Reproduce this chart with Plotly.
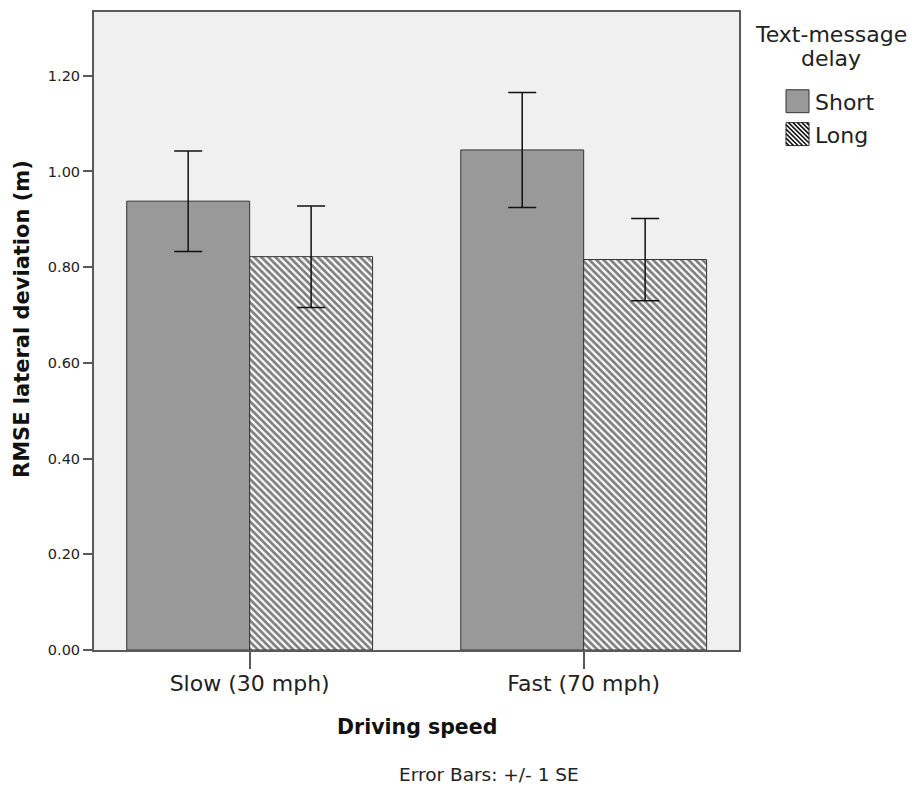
import plotly.graph_objects as go

# ---- data ----
categories = ["Slow (30 mph)", "Fast (70 mph)"]
series_names = ["Short", "Long"]
short_mean = [0.938, 1.045]
short_se = [0.105, 0.120]
long_mean = [0.822, 0.816]
long_se = [0.106, 0.086]
y_tickvals = [0.0, 0.2, 0.4, 0.6, 0.8, 1.0, 1.2]
y_ticktext = ["0.00", "0.20", "0.40", "0.60", "0.80", "1.00", "1.20"]

# ---- layout geometry (pixels) ----
W, H = 912, 789
PL, PR, PT, PB = 94, 739, 10, 650  # plot area edges


def px(x):
    return (x - PL) / (PR - PL)


def py(y):
    return (PB - y) / (PB - PT)


FONT = "DejaVu Sans"
AXIS_COL = "#5a5a5a"

fig = go.Figure()
fig.add_trace(go.Bar(
    name=series_names[0], x=categories, y=short_mean,
    marker=dict(color="#999999", line=dict(color="#333333", width=1)),
    error_y=dict(type="data", array=short_se, visible=True,
                 color="#111111", thickness=1.5, width=14),
    showlegend=False,
))
fig.add_trace(go.Bar(
    name=series_names[1], x=categories, y=long_mean,
    marker=dict(color="white", line=dict(color="#333333", width=1),
                pattern=dict(shape="\\", size=5, solidity=0.55,
                             fgcolor="#000000", bgcolor="white")),
    error_y=dict(type="data", array=long_se, visible=True,
                 color="#111111", thickness=1.5, width=14),
    showlegend=False,
))

# ---- custom legend (swatches) ----
shapes = []
S = 23
sx0, sy_short, sy_long = 786, 88, 121
shapes.append(dict(type="rect", xref="paper", yref="paper",
                   x0=px(sx0), x1=px(sx0 + S), y0=py(sy_short + S), y1=py(sy_short),
                   fillcolor="#999999", line=dict(color="#333333", width=1)))
shapes.append(dict(type="rect", xref="paper", yref="paper",
                   x0=px(sx0), x1=px(sx0 + S), y0=py(sy_long + S), y1=py(sy_long),
                   fillcolor="white", line=dict(color="#333333", width=1)))
path = ""
c = -S + 3
while c < S:
    xa = max(0, c)
    xb = min(S, S + c)
    if xb > xa:
        ya, yb = xa - c, xb - c
        path += "M{:.5f},{:.5f} L{:.5f},{:.5f} ".format(
            px(sx0 + xa), py(sy_long + ya), px(sx0 + xb), py(sy_long + yb))
    c += 4.5
shapes.append(dict(type="path", xref="paper", yref="paper", path=path,
                   line=dict(color="#111111", width=1.5)))

annotations = [
    dict(text="Short", x=px(813), y=py(101), xref="paper", yref="paper",
         xanchor="left", yanchor="middle", showarrow=False,
         font=dict(family=FONT, size=22, color="#222222")),
    dict(text="Long", x=px(813), y=py(134), xref="paper", yref="paper",
         xanchor="left", yanchor="middle", showarrow=False,
         font=dict(family=FONT, size=22, color="#222222")),
    dict(text="Text-message", x=px(831), y=py(33), xref="paper", yref="paper",
         xanchor="center", yanchor="middle", showarrow=False,
         font=dict(family=FONT, size=22, color="#222222")),
    dict(text="delay", x=px(831), y=py(57), xref="paper", yref="paper",
         xanchor="center", yanchor="middle", showarrow=False,
         font=dict(family=FONT, size=22, color="#222222")),
    dict(text="<b>RMSE lateral deviation (m)</b>", x=px(22), y=py(318),
         xref="paper", yref="paper", xanchor="center", yanchor="middle",
         textangle=-90, showarrow=False,
         font=dict(family=FONT, size=21, color="#111111")),
    dict(text="<b>Driving speed</b>", x=px(417), y=py(727), xref="paper", yref="paper",
         xanchor="center", yanchor="middle", showarrow=False,
         font=dict(family=FONT, size=20.5, color="#111111")),
    dict(text="Error Bars: +/- 1 SE", x=px(489), y=py(775), xref="paper", yref="paper",
         xanchor="center", yanchor="middle", showarrow=False,
         font=dict(family=FONT, size=18.5, color="#222222")),
]

fig.update_layout(
    width=W, height=H,
    margin=dict(l=PL, r=W - PR, t=PT, b=H - PB, pad=0),
    paper_bgcolor="white", plot_bgcolor="#f0f0f0",
    barmode="group", bargap=0.264, bargroupgap=0,
    showlegend=False,
    shapes=shapes, annotations=annotations,
    font=dict(family=FONT, color="#222222"),
)
fig.update_xaxes(
    type="category", range=[-0.466, 1.465],
    showline=True, mirror=True, linecolor=AXIS_COL, linewidth=2,
    ticks="outside", ticklen=17, tickwidth=1.5, tickcolor=AXIS_COL,
    tickfont=dict(family=FONT, size=22, color="#222222"),
    ticklabelstandoff=-4,
    showgrid=False, zeroline=False,
)
fig.update_yaxes(
    range=[0, 1.3333],
    tickvals=y_tickvals, ticktext=y_ticktext,
    showline=True, mirror=True, linecolor=AXIS_COL, linewidth=2,
    ticks="outside", ticklen=9, tickwidth=2, tickcolor=AXIS_COL,
    tickfont=dict(family=FONT, size=14.5, color="#222222"),
    showgrid=False, zeroline=False,
)

fig.write_html("out.html", config={"displayModeBar": False},
               post_script="document.body.style.margin='0';")
